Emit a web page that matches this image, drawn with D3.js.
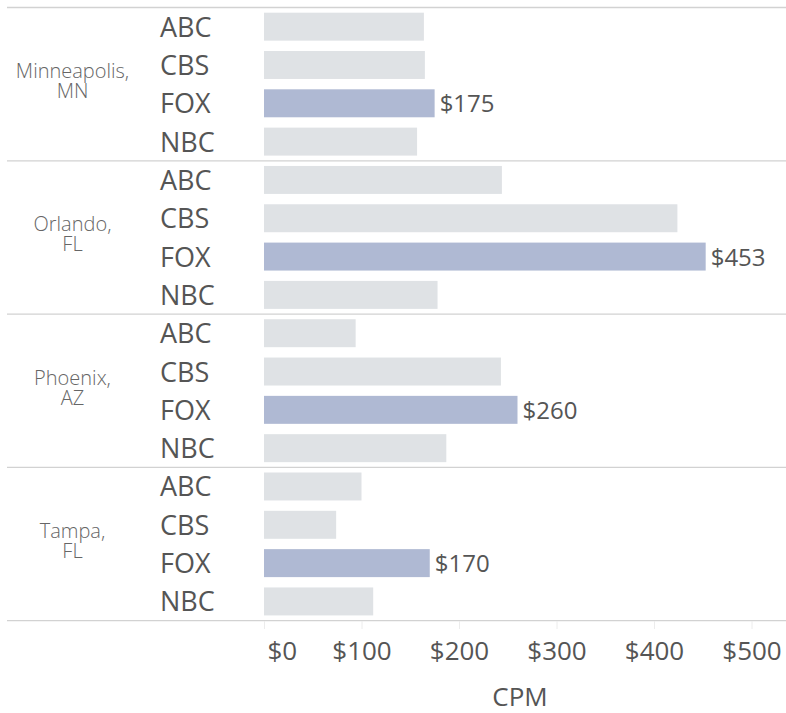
<!DOCTYPE html>
<html>
<head>
<meta charset="utf-8">
<script src="https://cdn.jsdelivr.net/npm/d3@7"></script>
<style>
  html, body { margin: 0; padding: 0; background: #fff; }
  svg { display: block; }
  text { font-family: "Open Sans", sans-serif; }
</style>
</head>
<body>
<svg id="chart" width="786" height="713"></svg>
<script>
const cities = [["Minneapolis,", "MN"], ["Orlando,", "FL"], ["Phoenix,", "AZ"], ["Tampa,", "FL"]];
const networks = ["ABC", "CBS", "FOX", "NBC"];
const highlight = "FOX";
const minneapolisValues = [164, 165, 175, 157];
const orlandoValues = [244, 424, 453, 178];
const phoenixValues = [94, 243, 260, 187];
const tampaValues = [100, 74, 170, 112];
const tickValues = [0, 100, 200, 300, 400, 500];
const axisTitle = "CPM";

const allValues = [minneapolisValues, orlandoValues, phoenixValues, tampaValues];
const cityKeys = cities.map(c => c.join(" "));
const data = [];
cityKeys.forEach((c, i) => networks.forEach((n, j) => data.push({city: c, network: n, value: allValues[i][j]})));

const svg = d3.select("#chart");
const x = d3.scaleLinear().domain([0, 500]).range([264, 751.5]);
const yCity = d3.scaleBand().domain(cityKeys).range([7.5, 620.6]).padding(0);
const yNet = d3.scaleBand().domain(networks).range([0, yCity.bandwidth()]).paddingInner(0.27).paddingOuter(0.135);

// bars
svg.append("g").selectAll("rect").data(data).join("rect")
  .attr("x", x(0))
  .attr("y", d => yCity(d.city) + yNet(d.network))
  .attr("width", d => x(d.value) - x(0))
  .attr("height", yNet.bandwidth())
  .attr("fill", d => d.network === highlight ? "#afb9d3" : "#dfe2e5");

// separators
const seps = cityKeys.map(c => yCity(c)).concat([yCity.range()[1]]);
svg.append("g").selectAll("line").data(seps).join("line")
  .attr("x1", 7).attr("x2", 786)
  .attr("y1", d => d).attr("y2", d => d)
  .attr("stroke", "#d2d2d2").attr("stroke-width", 1.3);

// network labels
svg.append("g").selectAll("text").data(data).join("text")
  .attr("x", 160)
  .attr("y", d => yCity(d.city) + yNet(d.network) + yNet.bandwidth() / 2 + 10)
  .attr("font-size", 27)
  .attr("fill", "#555")
  .text(d => d.network);

// city labels
const cityG = svg.append("g").selectAll("text").data(cities).join("text")
  .attr("text-anchor", "middle")
  .attr("font-size", 20)
  .attr("font-weight", 300)
  .attr("fill", "#666");
cityG.each(function(c, i) {
  const cy = yCity(cityKeys[i]) + yCity.bandwidth() / 2;
  const t = d3.select(this);
  t.append("tspan").attr("x", 72.5).attr("y", cy - 6).text(c[0]);
  t.append("tspan").attr("x", 72.5).attr("y", cy + 14).text(c[1]);
});

// value labels for highlighted
svg.append("g").selectAll("text").data(data.filter(d => d.network === highlight)).join("text")
  .attr("x", d => x(d.value) + 5)
  .attr("y", d => yCity(d.city) + yNet(d.network) + yNet.bandwidth() / 2 + 9)
  .attr("font-size", 24)
  .attr("fill", "#555")
  .text(d => "$" + d.value);

// axis
const axis = d3.axisBottom(x).tickValues(tickValues).tickSize(8).tickPadding(13).tickFormat(d => "$" + d);
const ag = svg.append("g").attr("transform", "translate(0,621)").call(axis);
ag.select(".domain").remove();
ag.selectAll(".tick line").attr("stroke", "#ececec");
ag.selectAll(".tick text")
  .attr("font-size", 26)
  .attr("font-family", "Open Sans, sans-serif")
  .attr("fill", "#555");
ag.selectAll(".tick text").filter(d => d === 0).attr("text-anchor", "start").attr("x", 3);

svg.append("text")
  .attr("x", 520).attr("y", 706)
  .attr("text-anchor", "middle")
  .attr("font-size", 26)
  .attr("fill", "#555")
  .text(axisTitle);
</script>
</body>
</html>
